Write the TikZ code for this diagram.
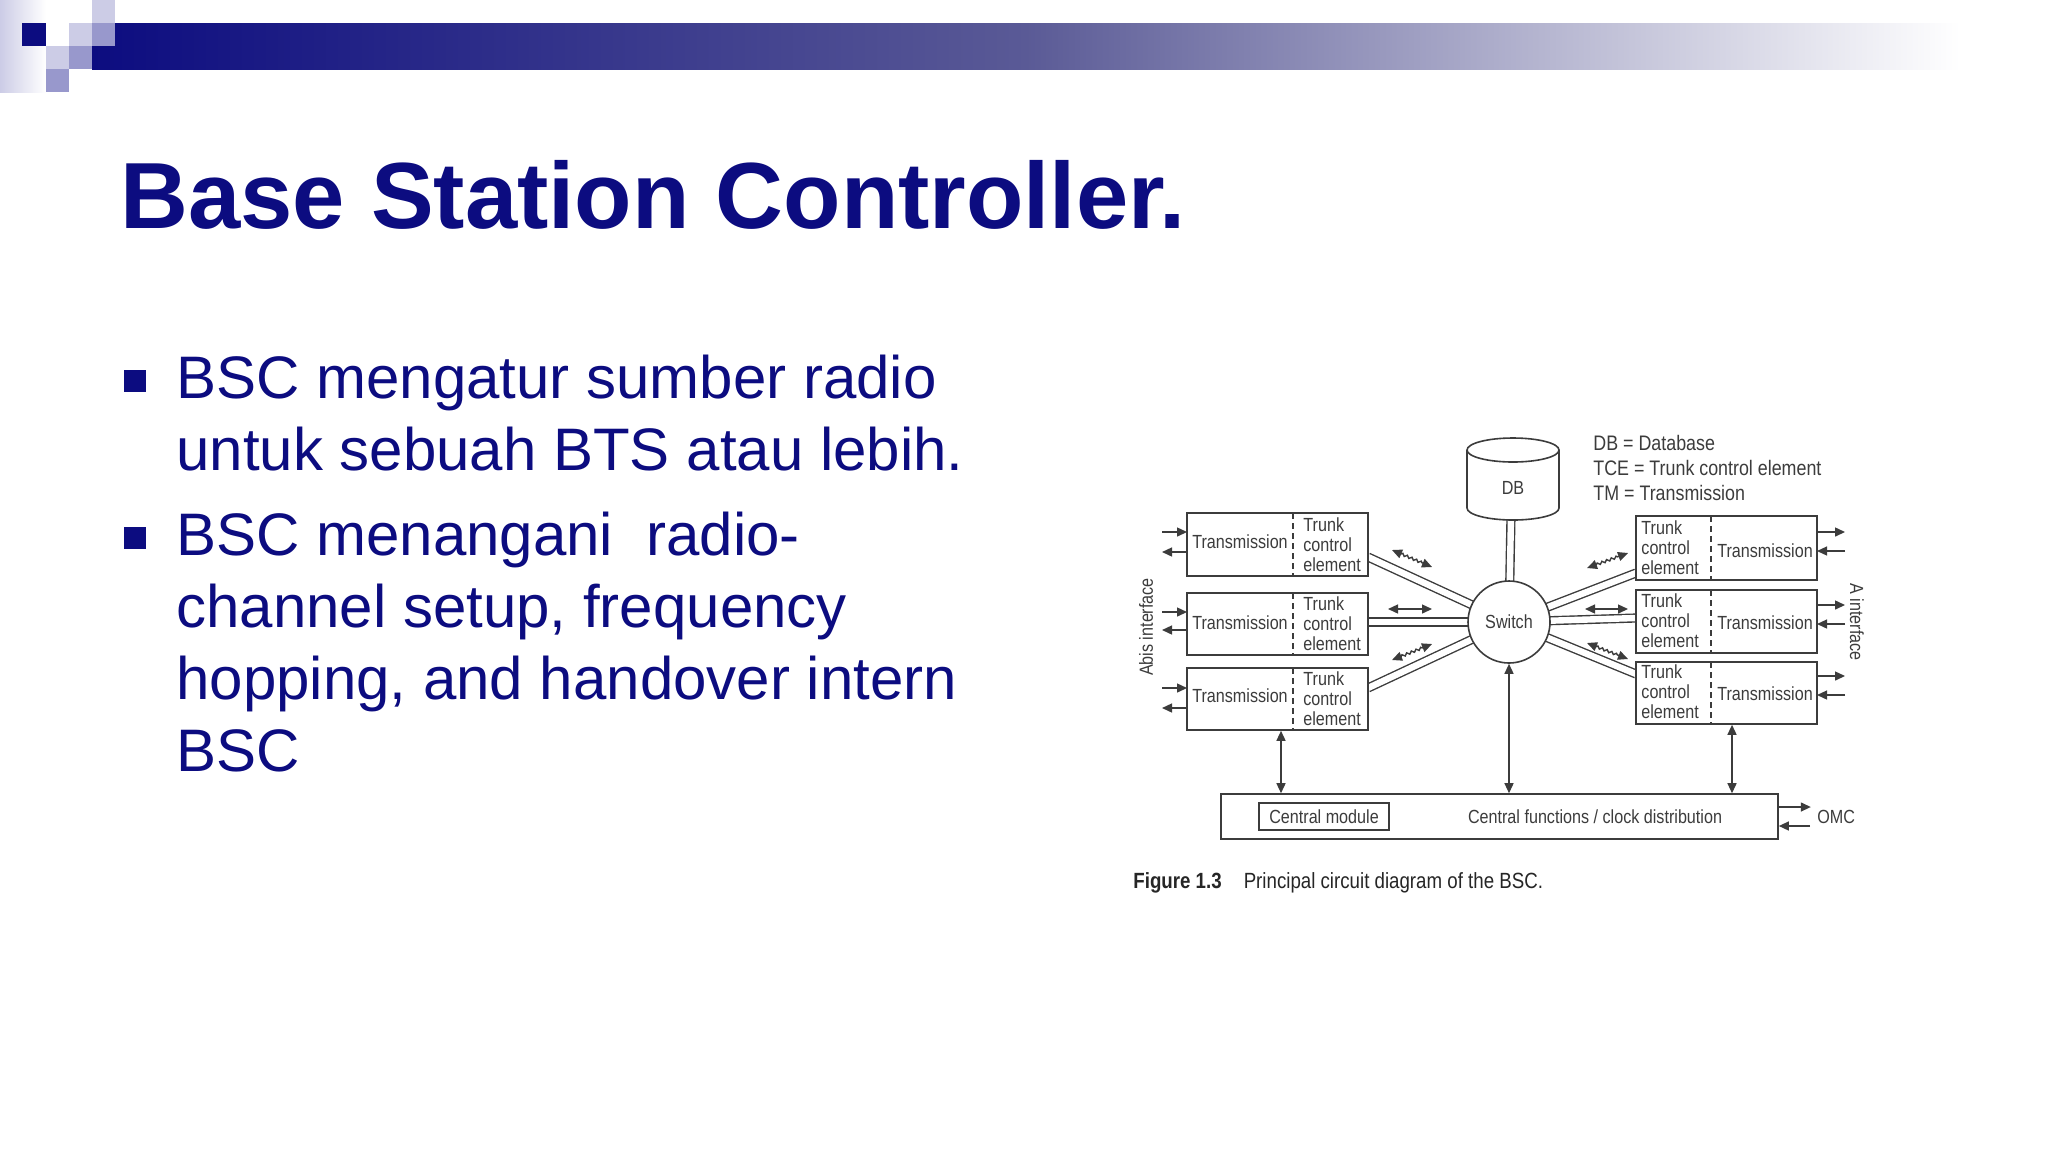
\documentclass[tikz,border=0pt]{standalone}
\usepackage{fontspec}
\setmainfont{Liberation Sans}
\newfontfamily\diag[FakeStretch=0.85]{Liberation Sans}
\usetikzlibrary{arrows.meta,decorations.pathmorphing}
\definecolor{navy}{RGB}{12,12,128}
\definecolor{dg}{RGB}{60,60,60}
\definecolor{lav}{RGB}{204,204,230}
\definecolor{med}{RGB}{152,152,204}
\begin{document}
\begin{tikzpicture}[x=0.5pt,y=-0.5pt,
  box/.style={draw=dg,line width=0.8pt,inner sep=0pt,fill=white},
  dt/.style={font=\diag\fontsize{9.5}{10}\selectfont,text=dg,inner sep=0pt},
  tce/.style={dt,align=left,anchor=west},
  ar/.style={draw=dg,line width=0.7pt,-{Triangle[length=5pt,width=4.5pt]}},
  dar/.style={draw=dg,line width=0.7pt,{Triangle[length=5pt,width=4.5pt]}-{Triangle[length=5pt,width=4.5pt]}},
  wv/.style={dar,decorate,decoration={zigzag,amplitude=0.6pt,segment length=2.5pt,pre length=5pt,post length=5pt}},
  link/.style={draw=dg,line width=0.7pt,double=white,double distance=3.2pt},
  dsh/.style={draw=dg,line width=0.6pt,dash pattern=on 3pt off 2pt},
  bt/.style={anchor=base west,inner sep=0pt,text=navy,font=\fontsize{30}{36}\selectfont}]
\useasboundingbox (0,0) rectangle (2048,1152);
\fill[white] (0,0) rectangle (2048,1152);
% header
\shade[left color=lav,right color=white] (0,0) rectangle (46,92);
\shade[left color=navy,right color=white,middle color={rgb,255:red,90;green,90;blue,150}] (92,23) rectangle (1960,69);
\fill[navy] (22,23) rectangle (46,46);
\fill[lav] (92,0) rectangle (115,23);
\fill[lav] (69,23) rectangle (92,46);
\fill[med] (92,23) rectangle (115,46);
\fill[lav] (46,46) rectangle (69,69);
\fill[med] (69,46) rectangle (92,69);
\fill[med] (46,69) rectangle (69,92);
% title
\node[anchor=base west,inner sep=0pt,text=navy,font=\bfseries\fontsize{47}{56}\selectfont] (title) at (120,228) {Base Station Controller.};
% bullets
\fill[navy] (124,370) rectangle (146,392);
\fill[navy] (124,527) rectangle (146,549);
\node[bt] (l1) at (176,398) {BSC mengatur sumber radio};
\node[bt] (l2) at (176,470) {untuk sebuah BTS atau lebih.};
\node[bt] (l3) at (176,555) {BSC menangani\ \ radio-};
\node[bt] (l4) at (176,627) {channel setup, frequency};
\node[bt] (l5) at (176,699) {hopping, and handover intern};
\node[bt] (l6) at (176,771) {BSC};
% links (behind switch)
\coordinate (swc) at (1509,622);
\draw[link] (1368,557) -- (swc);
\draw[link] (1368,622) -- (swc);
\draw[link] (1368,688) -- (swc);
\draw[link] (1636,573) -- (swc);
\draw[link] (1636,618) -- (swc);
\draw[link] (1636,674) -- (swc);
\draw[link] (1511,515) -- (swc);
% DB
\draw[dg,line width=0.8pt,fill=white] (1467,450) -- (1467,508) arc(180:0:46 and 12) -- (1559,450);
\draw[dg,line width=0.8pt,fill=white] (1513,450) ellipse (46 and 12);
\node[dt] (db) at (1513,488) {DB};
% switch
\node[circle,draw=dg,line width=0.8pt,fill=white,minimum size=41pt,inner sep=0pt,dt] (sw) at (swc) {Switch};
% left boxes
\node[box,minimum width=90.5pt,minimum height=31.5pt] (b1) at (1277.5,544.5) {};
\node[box,minimum width=90.5pt,minimum height=31pt] (b2) at (1277.5,624) {};
\node[box,minimum width=90.5pt,minimum height=31pt] (b3) at (1277.5,699) {};
\draw[dsh] (1293,513) -- (1293,576);
\draw[dsh] (1293,593) -- (1293,655);
\draw[dsh] (1293,668) -- (1293,730);
\node[dt] (t1) at (1240,542) {Transmission};
\node[dt] (t2) at (1240,623) {Transmission};
\node[dt] (t3) at (1240,696) {Transmission};
\node[tce] (c1) at (1303,545) {Trunk\\control\\element};
\node[tce] (c2) at (1303,624) {Trunk\\control\\element};
\node[tce] (c3) at (1303,699) {Trunk\\control\\element};
% right boxes
\node[box,minimum width=90.5pt,minimum height=32pt] (r1) at (1726.5,548) {};
\node[box,minimum width=90.5pt,minimum height=31.5pt] (r2) at (1726.5,621.5) {};
\node[box,minimum width=90.5pt,minimum height=31pt] (r3) at (1726.5,693) {};
\draw[dsh] (1711,516) -- (1711,580);
\draw[dsh] (1711,590) -- (1711,653);
\draw[dsh] (1711,662) -- (1711,724);
\node[tce] (d1) at (1641,548) {Trunk\\control\\element};
\node[tce] (d2) at (1641,621) {Trunk\\control\\element};
\node[tce] (d3) at (1641,692) {Trunk\\control\\element};
\node[dt] (s1) at (1765,551) {Transmission};
\node[dt] (s2) at (1765,623) {Transmission};
\node[dt] (s3) at (1765,694) {Transmission};
% bottom
\node[box,minimum width=278.5pt,minimum height=22.5pt] (cf) at (1499.5,816.5) {};
\node[box,minimum width=65pt,minimum height=13.5pt,dt] (cm) at (1324,816.5) {Central module};
\node[dt] (cft) at (1595,817) {Central functions / clock distribution};
\node[dt,anchor=west] (omc) at (1817,817) {OMC};
\draw[ar] (cf.east |- 0,807) -- ++(32,0);
\draw[ar] (1810,826) -- (cf.east |- 0,826);
% vertical arrows
\draw[dar] (b3.south -| 1281,0) -- (cf.north -| 1281,0);
\draw[dar] (sw.south) -- (cf.north -| sw.south);
\draw[dar] (r3.south -| 1732,0) -- (cf.north -| 1732,0);
% side arrows left
\foreach \y/\z in {532/552,612/630,688/708}{
  \draw[ar] (1162,\y) -- (1187,\y);
  \draw[ar] (1187,\z) -- (1162,\z);
}
% side arrows right
\foreach \y/\z in {532/551,605/624,676/695}{
  \draw[ar] (1817,\y) -- (1845,\y);
  \draw[ar] (1845,\z) -- (1817,\z);
}
% small arrows
\coordinate (w1a) at (1392,550); \coordinate (w1b) at (1432,567);
\coordinate (w3a) at (1392,660); \coordinate (w3b) at (1432,644);
\coordinate (w4a) at (1587,568); \coordinate (w4b) at (1628,553);
\coordinate (w6a) at (1587,643); \coordinate (w6b) at (1628,659);
\coordinate (w2a) at (1388,609); \coordinate (w2b) at (1432,609);
\coordinate (w5a) at (1585,609); \coordinate (w5b) at (1628,609);
\draw[wv] (w1a) -- (w1b);
\draw[wv] (w3a) -- (w3b);
\draw[wv] (w4a) -- (w4b);
\draw[wv] (w6a) -- (w6b);
\draw[dar] (w2a) -- (w2b);
\draw[dar] (w5a) -- (w5b);
% interface labels
\node[dt,rotate=90] (abis) at (1146,627) {Abis interface};
\node[dt,rotate=-90] (aif) at (1857,622) {A interface};
% legend
\node[dt,anchor=west,align=left,font=\diag\fontsize{10.5}{12.5}\selectfont] (leg) at (1593,468) {DB = Database\\TCE = Trunk control element\\TM = Transmission};
% caption
\node[anchor=base west,inner sep=0pt,font=\diag\fontsize{11}{13}\selectfont,text=black!85] (cap) at (1133,888) {\textbf{Figure 1.3}\quad Principal circuit diagram of the BSC.};
\end{tikzpicture}
\end{document}
